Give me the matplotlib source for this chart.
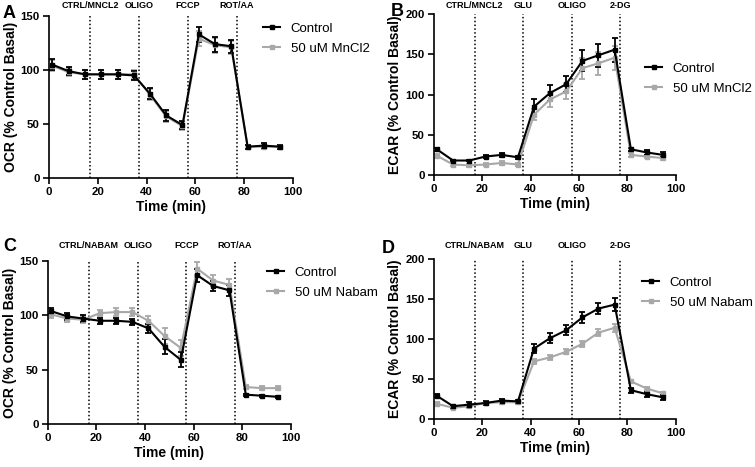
"""
Seahorse OCR / ECAR time courses, four panels
"""
import matplotlib
matplotlib.use('Agg')
import matplotlib.pyplot as plt
import matplotlib.transforms as mtransforms

plt.rcParams['font.family'] = ['Liberation Sans', 'DejaVu Sans']

# measurement times (min)
time = [1.3, 8.0, 14.7, 21.4, 28.1, 34.8, 41.4, 48.0, 54.7, 61.4, 68.0, 74.7, 81.4, 88.0, 94.7]

# A: OCR, MnCl2
ocr_ctrl_a = [105, 99, 96, 96, 96, 95, 78, 58, 49, 133, 124, 122, 29, 30, 29]
ocr_ctrl_a_err = [5, 4, 4, 4, 4, 4, 5, 5, 4, 7, 7, 6, 2, 2, 2]
ocr_mn = [104, 98, 96, 96, 96, 96, 77, 57, 48, 129, 123, 121, 29, 29, 29]
ocr_mn_err = [5, 4, 4, 4, 4, 4, 5, 5, 4, 7, 7, 6, 2, 2, 2]

# B: ECAR, MnCl2
ecar_ctrl_b = [32, 18, 18, 23, 25, 22, 85, 102, 113, 142, 149, 156, 32, 28, 25]
ecar_ctrl_b_err = [2, 1, 1, 2, 2, 2, 9, 10, 10, 13, 14, 15, 2, 3, 3]
ecar_mn = [24, 13, 12, 13, 15, 13, 75, 94, 104, 133, 139, 146, 25, 23, 21]
ecar_mn_err = [2, 2, 2, 2, 2, 2, 7, 9, 9, 13, 14, 15, 2, 2, 2]

# C: OCR, Nabam
ocr_ctrl_c = [104, 99, 97, 95, 95, 94, 88, 71, 59, 137, 127, 123, 27, 26, 25]
ocr_ctrl_c_err = [3, 3, 3, 3, 3, 3, 4, 7, 7, 6, 5, 5, 1, 1, 1]
ocr_nab = [101, 97, 96, 102, 103, 103, 95, 81, 70, 143, 132, 128, 34, 33, 33]
ocr_nab_err = [3, 3, 3, 3, 4, 4, 4, 7, 7, 6, 5, 5, 2, 2, 2]

# D: ECAR, Nabam
ecar_ctrl_d = [29, 16, 18, 20, 23, 22, 88, 101, 111, 127, 138, 143, 36, 31, 27]
ecar_ctrl_d_err = [2, 2, 3, 2, 2, 2, 6, 6, 6, 7, 7, 8, 3, 3, 3]
ecar_nab = [19, 14, 16, 20, 21, 21, 72, 77, 84, 94, 108, 114, 47, 38, 32]
ecar_nab_err = [2, 2, 2, 2, 2, 2, 3, 3, 3, 4, 4, 5, 2, 2, 2]

inj_times = [17, 37, 57, 77]
inj_ocr_mn = ['CTRL/MNCL2', 'OLIGO', 'FCCP', 'ROT/AA']
inj_ecar_mn = ['CTRL/MNCL2', 'GLU', 'OLIGO', '2-DG']
inj_ocr_nab = ['CTRL/NABAM', 'OLIGO', 'FCCP', 'ROT/AA']
inj_ecar_nab = ['CTRL/NABAM', 'GLU', 'OLIGO', '2-DG']

gray = '#a8a8a8'
W, H = 755, 467

fig = plt.figure(figsize=(W / 100, H / 100), dpi=100)


def panel(rect, letter, letter_px, ctrl, ctrl_err, trt, trt_err, trt_name,
          ylabel, ymax, injs, lab_off, leg_px):
    ax = fig.add_axes(rect)
    eb_t = ax.errorbar(time, trt, yerr=trt_err, color=gray, lw=1.5, marker='s',
                       ms=2.5, capsize=2.2, capthick=1.3, elinewidth=1.3)
    eb_c = ax.errorbar(time, ctrl, yerr=ctrl_err, color='black', lw=1.5, marker='s',
                       ms=2.5, capsize=2.2, capthick=1.3, elinewidth=1.3)
    trans = mtransforms.blended_transform_factory(ax.transData, ax.transAxes)
    for t, lab in zip(inj_times, injs):
        ax.axvline(t, color='black', ls=(0, (1, 1.5)), lw=1.1)
        ax.annotate(lab, xy=(t, 1.0), xycoords=trans, xytext=(0, lab_off),
                    textcoords='offset points', ha='center', va='bottom',
                    fontsize=6.5, fontweight='bold')
    ax.set_xlim(0, 100)
    ax.set_ylim(0, ymax)
    ax.set_xticks([0, 20, 40, 60, 80, 100])
    ax.set_yticks(range(0, ymax + 1, 50))
    for s in ['top', 'right']:
        ax.spines[s].set_visible(False)
    for s in ['left', 'bottom']:
        ax.spines[s].set_linewidth(1.2)
    ax.tick_params(width=1.2, length=4, labelsize=8.2, pad=2.5)
    for lbl in ax.get_xticklabels() + ax.get_yticklabels():
        lbl.set_fontweight('bold')
    ax.set_xlabel('Time (min)', fontsize=10, fontweight='bold', labelpad=2)
    ax.set_ylabel(ylabel, fontsize=10, fontweight='bold', labelpad=2)
    ax.legend([eb_c.lines[0], eb_t.lines[0]], ['Control', trt_name],
              loc='center left', bbox_to_anchor=(leg_px[0] / W, 1 - leg_px[1] / H),
              bbox_transform=fig.transFigure, frameon=False,
              fontsize=9.5, handlelength=1.3, handletextpad=0.8,
              labelspacing=0.6, borderpad=0, borderaxespad=0)
    fig.text(letter_px[0] / W, 1 - letter_px[1] / H, letter, fontsize=13,
             fontweight='bold', va='top', ha='left')
    return ax


panel([0.0649, 0.6188, 0.3232, 0.3469], 'A', (3, 5), ocr_ctrl_a, ocr_ctrl_a_err,
      ocr_mn, ocr_mn_err, '50 uM MnCl2', 'OCR (% Control Basal)', 150,
      inj_ocr_mn, 4.3, (263, 38.5))
panel([0.5744, 0.6253, 0.3209, 0.3441], 'B', (391, 3), ecar_ctrl_b, ecar_ctrl_b_err,
      ecar_mn, ecar_mn_err, '50 uM MnCl2', 'ECAR (% Control Basal)', 200,
      inj_ecar_mn, 3, (645, 78.5))
panel([0.0632, 0.0921, 0.3223, 0.3490], 'C', (3, 238), ocr_ctrl_c, ocr_ctrl_c_err,
      ocr_nab, ocr_nab_err, '50 uM Nabam', 'OCR (% Control Basal)', 150,
      inj_ocr_nab, 8, (267, 282.5))
panel([0.5744, 0.1028, 0.3209, 0.3426], 'D', (382, 240), ecar_ctrl_d, ecar_ctrl_d_err,
      ecar_nab, ecar_nab_err, '50 uM Nabam', 'ECAR (% Control Basal)', 200,
      inj_ecar_nab, 6.5, (642, 292.5))

fig.savefig('out.png', dpi=100, facecolor='white')
